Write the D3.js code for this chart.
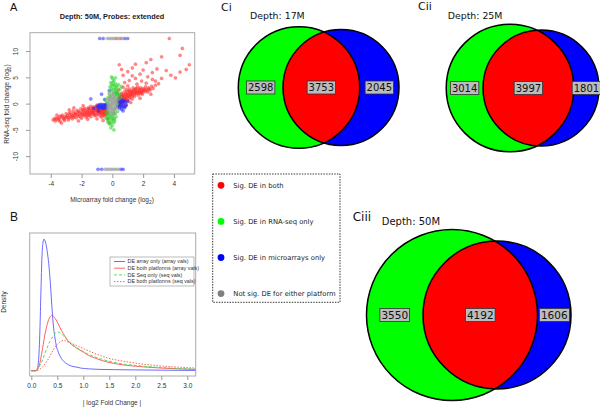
<!DOCTYPE html>
<html><head><meta charset="utf-8">
<script src="https://cdn.jsdelivr.net/npm/d3@7"></script>
<style>body{margin:0;background:#fff}svg{display:block}</style>
</head><body>
<script>
// ---------- DATA ----------
// Panel A scatter (microarray log2 FC, RNA-seq log2 FC)
const scatterRed = [
[-3.85,-3.1],[-3.75,-2.8],[-3.7,-3.3],[-3.55,-2.7],[-3.5,-3.1],[-3.4,-2.4],[-3.4,-3.4],
[-3.25,-2.2],[-3.2,-2.8],[-3.1,-3.2],[-3.1,-2.5],[-3.0,-1.9],[-2.95,-2.7],[-2.9,-2.3],[-2.85,-3.1],
[-2.75,-1.7],[-2.7,-2.5],[-2.65,-2.1],[-2.6,-2.9],[-2.55,-1.4],[-2.45,-2.3],[-2.4,-1.8],[-2.35,-2.7],[-2.3,-1.3],[-2.25,-2.1],
[-2.15,-1.6],[-2.1,-2.5],[-2.05,-1.0],[-2.0,-2.0],[-2.0,-2.8],[-1.95,-1.4],
[-1.85,-2.3],[-1.8,-1.8],[-1.8,-0.9],[-1.75,-1.3],[-1.7,-2.6],[-1.65,-2.0],[-1.6,-1.5],
[-1.55,-0.8],[-1.5,-2.2],[-1.5,-1.2],[-1.45,-1.8],[-1.4,-0.5],[-1.4,-2.5],[-1.35,-1.5],
[-1.3,-1.0],[-1.25,-2.0],[-1.2,-0.6],[-1.2,-1.4],[-1.15,-2.3],[-1.1,-1.7],[-1.1,-0.9],
[-1.0,-0.3],[-1.0,-1.3],[-0.95,-2.0],[-0.9,-1.6],[-0.9,-0.8],[-0.85,-1.1],[-0.8,-2.3],[-0.8,-1.4],
[-0.75,-1.8],[-0.7,-1.0],[-0.7,-2.6],[-0.65,-1.3],[-0.6,-2.0],[-0.55,-1.6],[-0.5,-1.1],[-0.5,-2.4],[-0.45,-1.8],[-0.4,-1.3],
[-3.3,-3.7],[-2.8,-1.2],[-2.2,-3.3],[-1.6,-3.0],[-1.0,-2.9],[-0.6,-3.2],[-3.6,-2.2],[-2.5,-0.8],[-1.9,-0.4],[-0.3,-2.8],[-0.2,-3.6],
[-3.65,-2.95],[-3.45,-2.85],[-3.3,-2.5],[-3.15,-2.95],[-3.0,-2.5],[-2.8,-2.7],[-2.8,-2.0],[-2.6,-2.4],[-2.5,-1.9],[-2.5,-2.6],
[-2.35,-2.0],[-2.2,-2.4],[-2.2,-1.5],[-2.1,-1.9],[-1.95,-2.2],[-1.9,-1.7],[-1.9,-1.1],[-1.75,-2.1],[-1.7,-1.6],[-1.6,-2.3],
[-1.6,-1.0],[-1.55,-1.7],[-1.45,-1.0],[-1.4,-2.0],[-1.3,-1.7],[-1.3,-1.3],[-1.25,-0.8],[-1.2,-1.9],[-1.1,-1.3],[-1.05,-2.2],
[-1.0,-1.0],[-0.95,-1.5],[-0.9,-1.2],[-0.85,-1.9],[-0.8,-0.9],[-0.75,-1.5],[-0.7,-1.7],[-0.65,-2.2],[-0.6,-1.1],[-0.55,-1.9],
[-0.5,-1.4],[-0.45,-2.1],[-0.4,-1.6],[-0.35,-1.0],[-0.35,-2.0],[-0.3,-1.6],
[0.3,0.4],[0.35,-0.4],[0.4,1.0],[0.45,0.1],[0.5,1.6],[0.5,-0.3],
[0.55,0.7],[0.6,1.3],[0.6,2.0],[0.65,0.2],[0.7,1.0],[0.7,1.7],[0.75,0.5],[0.8,2.3],[0.8,1.3],
[0.85,0.8],[0.9,1.8],[0.9,2.7],[0.95,1.2],[1.0,0.5],[1.0,2.2],[1.05,1.6],[1.1,2.8],[1.1,0.9],
[1.15,1.9],[1.2,1.3],[1.25,2.5],[1.3,0.9],[1.3,1.8],[1.35,3.0],[1.4,2.2],[1.45,1.4],[1.5,2.7],
[1.55,1.9],[1.6,2.4],[1.65,3.1],[1.7,1.6],[1.75,2.6],[1.8,2.1],[1.85,3.0],[1.9,2.4],[1.95,1.8],[2.0,2.8],
[2.1,2.3],[2.15,3.2],[2.2,2.7],[2.3,2.2],[2.35,3.0],[2.45,2.6],[2.55,3.3],[2.65,2.9],[2.8,3.5],
[0.35,0.6],[0.4,0.3],[0.45,1.3],[0.55,0.2],[0.6,0.9],[0.65,1.6],[0.7,0.6],[0.75,1.4],[0.8,0.9],[0.85,1.9],
[0.9,1.3],[0.95,0.7],[1.0,1.6],[1.05,2.4],[1.1,1.3],[1.15,2.3],[1.2,1.7],[1.25,2.0],[1.3,2.3],[1.35,1.5],
[1.4,2.6],[1.45,1.9],[1.5,2.3],[1.55,2.9],[1.6,2.0],[1.7,2.3],[1.75,2.0],[1.8,2.7],[1.9,2.0],[2.0,2.4],[2.05,2.7],[2.25,2.5],[2.4,2.8],
[0.4,2.6],[0.7,3.1],[1.0,3.4],[1.6,3.7],[2.2,3.9],[1.2,0.2],[1.8,1.0],[2.5,1.8],[0.9,-0.3],
[3.7,12.4],[4.55,10.5],[4.4,9.2],[5.0,7.4],[4.4,6.0],[3.2,8.9],[2.5,8.4],[2.2,7.8],[0.45,7.4],[1.5,7.5],
[3.8,5.4],[3.2,4.8],[2.9,6.6],[2.6,5.9],[2.0,6.4],[1.8,5.6],[1.3,6.8],[1.0,6.1],[0.7,5.4],[2.3,5.1],
[1.5,4.8],[1.1,4.4],[2.8,4.3],[3.5,6.3],[0.8,4.0],[1.9,4.3],[2.6,4.6],[4.1,4.9],[4.8,6.5],[1.3,5.3],[0.6,6.5],[3.0,3.8],
[0.25,12.4],[0.55,12.4]
];
const scatterBlue = [
[-1.0,-0.5],[-0.9,-0.3],[-0.85,-0.8],[-0.8,-0.4],[-0.75,-0.6],[-0.7,-0.2],[-0.65,-0.9],[-0.6,-0.5],[-0.55,-0.3],
[-0.5,-0.7],[-0.45,-0.4],[-0.4,-0.1],[-0.35,-0.6],[-0.3,-0.3],[-1.2,-0.9],[-1.4,0.9],[-0.7,1.8],[-0.5,0.8],
[0.35,0.6],[0.4,-0.3],[0.45,0.2],[0.5,-0.6],[0.55,0.4],[0.6,-0.1],[0.65,0.7],[0.7,-0.4],[0.75,0.1],[0.8,-0.8],
[0.85,0.3],[0.9,-0.2],[0.6,-1.1],[0.45,-0.9],[1.0,0.4],[0.5,1.0],[0.3,2.0],[-0.2,2.5],[0.7,-1.4],[-0.9,-1.4],
[-0.95,-0.65],[-0.8,-0.15],[-0.7,-0.75],[-0.6,-0.2],[-0.55,-0.85],[-0.45,-0.2],[-0.4,-0.8],[0.4,0.1],[0.5,0.6],
[0.55,-0.3],[0.65,0.2],[0.7,0.5],[0.75,-0.6],[0.8,0.5],[0.85,-0.5],[0.6,-0.7],[0.35,-0.6],
[-0.82,12.4],[-0.6,12.4],[0.8,12.4],[1.0,12.4],[-0.93,-12.5],[-0.7,-12.5],[0.7,-12.5],[0.55,-12.5]
];
const scatterGreen = [
[0.0,4.8],[0.1,4.4],[-0.1,4.0],[0.2,3.8],[0.05,3.5],[-0.15,3.2],[0.25,3.0],[0.1,2.8],[-0.05,2.5],[0.3,2.4],
[0.15,2.2],[-0.2,2.0],[0.05,1.8],[0.35,1.6],[-0.1,1.5],[0.2,1.3],[-0.3,1.1],[0.1,1.0],[0.4,0.9],[-0.15,0.6],
[0.25,0.5],[-0.35,0.2],[0.3,-0.1],[-0.25,-0.4],[0.2,-0.6],[-0.1,-0.9],[0.15,-1.1],[-0.3,-1.3],[0.05,-1.5],
[-0.2,-1.8],[0.1,-2.0],[-0.35,-2.2],[0.0,-2.4],[-0.15,-2.7],[0.15,-2.9],[-0.25,-3.1],[-0.05,-3.3],[0.1,-3.6],
[-0.2,-3.9],[0.0,-4.2],[-0.1,-4.6],[-0.3,-3.0],[0.25,-2.5],[0.5,2.8],[0.6,3.3],[0.45,1.9],[-0.4,-1.7],[0.35,-1.5],
[-0.45,0.6],[0.55,1.1],[0.4,3.6],[-0.05,5.1],[0.2,4.9],[0.1,-5.0],[-0.4,-2.8],[0.3,3.3],[0.0,0.3],[-0.05,-0.2],
[0.05,4.1],[0.15,3.4],[-0.05,2.9],[0.2,2.6],[0.1,2.0],[-0.15,1.3],[0.25,1.7],[0.05,-1.8],[-0.1,-2.2],[-0.2,-2.5],
[0.05,-2.8],[-0.1,-3.8],[0.0,-3.0],[-0.25,-2.0],[0.2,-1.9],[0.15,-3.3],[-0.3,-3.5],[0.3,2.0],[-0.05,3.6]
];
const scatterGrey = [
[0,0],[0.1,0.3],[-0.1,-0.3],[0.2,0.6],[-0.2,-0.6],[0.05,0.9],[-0.05,-0.9],[0.15,-0.2],[-0.15,0.2],[0.25,1.1],
[-0.25,-1.1],[0.0,1.4],[0.0,-1.4],[0.1,-0.7],[-0.1,0.7],[0.3,0.0],[-0.3,0.0],[0.2,-1.0],[-0.2,1.0],[0.1,1.8],
[-0.1,-1.8],[0.05,-2.2],[-0.05,2.2],[0.15,0.0],[-0.15,-1.5],[0.25,-0.5],[-0.25,0.5],
[0.05,0.5],[-0.05,-0.5],[0.15,0.9],[-0.15,-0.9],[0.2,0.2],[-0.2,-0.2],[0.1,-1.2],[-0.1,1.2],[0.25,-0.9],
[-0.25,0.9],[0.0,-1.0],[0.0,1.0],[0.3,0.6],[-0.3,-0.6],[0.12,1.5],[-0.12,-1.6],[0.2,-1.6],[-0.2,1.7],
[-0.35,12.4],[-0.25,12.4],[-0.15,12.4],[-0.05,12.4],[0.05,12.4],[0.15,12.4],[0.35,12.4],[0.45,12.4],[0.65,12.4],
[-0.5,-12.5],[-0.4,-12.5],[-0.3,-12.5],[-0.2,-12.5],[-0.1,-12.5],[0.0,-12.5],[0.1,-12.5],[0.2,-12.5],[0.3,-12.5],[0.4,-12.5]
];
const scatterXTicks = [-4,-2,0,2,4];
const scatterYTicks = [-10,-5,0,5,10];

// Panel B densities (|log2 FC|, density)
const densArrayOnly = [[0,0],[0.08,0],[0.11,0.05],[0.14,0.4],[0.165,1.5],[0.185,3.0],[0.205,4.3],[0.225,4.85],[0.245,4.97],[0.265,4.9],[0.29,4.7],[0.31,4.45],[0.335,4.05],[0.355,3.6],[0.375,3.05],[0.395,2.45],[0.42,1.8],[0.45,1.3],[0.48,0.95],[0.52,0.7],[0.56,0.52],[0.62,0.36],[0.7,0.24],[0.78,0.17],[0.86,0.14],[0.95,0.1],[1.1,0.07],[1.3,0.05],[1.6,0.04],[2.0,0.03],[2.5,0.02],[3.16,0.01]];
const densBothArray = [[0,0],[0.08,0],[0.12,0.05],[0.16,0.25],[0.195,0.6],[0.23,1.0],[0.26,1.35],[0.29,1.62],[0.32,1.85],[0.35,2.0],[0.38,2.08],[0.4,2.1],[0.43,2.05],[0.46,1.97],[0.49,1.87],[0.53,1.72],[0.58,1.52],[0.64,1.32],[0.7,1.14],[0.78,0.98],[0.9,0.82],[1.0,0.7],[1.1,0.58],[1.25,0.46],[1.35,0.39],[1.6,0.27],[2.0,0.17],[2.5,0.1],[3.16,0.05]];
const densSeqOnly = [[0,0],[0.1,0],[0.13,0.07],[0.18,0.25],[0.225,0.45],[0.27,0.7],[0.32,0.95],[0.37,1.15],[0.42,1.3],[0.47,1.42],[0.51,1.46],[0.56,1.42],[0.61,1.33],[0.68,1.18],[0.77,1.02],[0.86,0.89],[0.96,0.77],[1.08,0.64],[1.22,0.52],[1.38,0.42],[1.54,0.34],[1.75,0.26],[2.0,0.2],[2.5,0.12],[3.16,0.06]];
const densBothSeq = [[0,0],[0.12,0],[0.16,0.05],[0.22,0.15],[0.29,0.33],[0.35,0.52],[0.42,0.78],[0.47,0.93],[0.51,1.02],[0.56,1.1],[0.61,1.14],[0.66,1.13],[0.71,1.08],[0.8,1.01],[0.9,0.93],[1.02,0.82],[1.15,0.71],[1.3,0.59],[1.47,0.48],[1.65,0.4],[1.86,0.33],[2.1,0.26],[2.37,0.2],[2.7,0.15],[3.16,0.1]];
const densityLabels = ["DE array only (array vals)","DE both platforms (array vals)","DE Seq only (seq vals)","DE both platforms (seq vals)"];
const densityXTicks = [0,0.5,1,1.5,2,2.5,3];

// Panel C Venn counts
const vennNames = ["Ci","Cii","Ciii"];
const vennDepths = ["Depth: 17M","Depth: 25M","Depth: 50M"];
const rnaSeqOnly = [2598,3014,3550];
const bothPlatforms = [3753,3997,4192];
const arrayOnly = [2045,1801,1606];
const legendLabels = ["Sig. DE in both","Sig. DE in RNA-seq only","Sig. DE in microarrays only","Not sig. DE for either platform"];

// ---------- LAYOUT / STYLE ----------
const W=600,H=407;
const svg=d3.select("body").append("svg").attr("width",W).attr("height",H);
svg.append("rect").attr("width",W).attr("height",H).attr("fill","#fff");
const RF="'Liberation Sans', Arial, sans-serif";
const DF="'DejaVu Sans', sans-serif";

// ===== Panel A =====
const A={l:30,r:194.7,t:32.7,b:174};
const xA=d3.scaleLinear().domain([-5.35,5.35]).range([A.l,A.r]);
const yA=d3.scaleLinear().domain([-13.4,13.5]).range([A.b,A.t]);
const gA=svg.append("g");
gA.append("rect").attr("x",A.l).attr("y",A.t).attr("width",A.r-A.l).attr("height",A.b-A.t)
  .attr("fill","none").attr("stroke","#aaa").attr("stroke-width",1);
const ptLayers=[[scatterRed,"#ff2a2a"],[scatterBlue,"#2a2aff"],[scatterGreen,"#2ad42a"],[scatterGrey,"#a0a0a0"]];
ptLayers.forEach(([arr,c])=>{
  gA.append("g").selectAll("circle").data(arr).join("circle")
    .attr("cx",d=>xA(d[0])).attr("cy",d=>yA(d[1])).attr("r",1.6)
    .attr("fill",c).attr("fill-opacity",0.55).attr("stroke",c).attr("stroke-opacity",0.55).attr("stroke-width",0.4);
});
const axA=gA.append("g").attr("transform",`translate(0,${A.b})`)
  .call(d3.axisBottom(xA).tickValues(scatterXTicks).tickSize(4).tickPadding(3).tickFormat(d=>String(d)));
const ayA=gA.append("g").attr("transform",`translate(${A.l},0)`)
  .call(d3.axisLeft(yA).tickValues(scatterYTicks).tickSize(4).tickFormat(d=>String(d)));
[axA,ayA].forEach(a=>{a.select(".domain").remove();a.selectAll("line").attr("stroke","#999");
  a.selectAll("text").attr("font-family",RF).attr("font-size",6.5).attr("fill","#333");});
ayA.selectAll("text").attr("transform","rotate(-90)").attr("x",0).attr("y",-12).attr("dy",0).attr("text-anchor","middle");
gA.append("text").attr("x",112).attr("y",19).attr("text-anchor","middle").attr("font-family",RF)
  .attr("font-weight","bold").attr("font-size",7.3).attr("fill","#222").text("Depth: 50M, Probes: extended");
const xl=gA.append("text").attr("x",112).attr("y",202).attr("text-anchor","middle").attr("font-family",RF).attr("font-size",6.5).attr("fill","#333");
xl.append("tspan").text("Microarray fold change (log");xl.append("tspan").attr("font-size",4.8).attr("dy",1.5).text("2");xl.append("tspan").attr("dy",-1.5).text(")");
const yl=gA.append("text").attr("transform","translate(9,104) rotate(-90)").attr("text-anchor","middle").attr("font-family",RF).attr("font-size",6.5).attr("fill","#333");
yl.append("tspan").text("RNA-seq fold change (log");yl.append("tspan").attr("font-size",4.8).attr("dy",1.5).text("2");yl.append("tspan").attr("dy",-1.5).text(")");
svg.append("text").attr("x",10).attr("y",10.5).attr("font-family",RF).attr("font-size",11).attr("fill","#111").text("A");

// ===== Panel B =====
const B={l:29.7,r:195.7,t:233,b:376};
const xB=d3.scaleLinear().domain([-0.031,3.162]).range([B.l,B.r]);
const yB=d3.scaleLinear().domain([-0.2,5.2]).range([B.b,B.t]);
const gB=svg.append("g");
gB.append("rect").attr("x",B.l).attr("y",B.t).attr("width",B.r-B.l).attr("height",B.b-B.t)
  .attr("fill","none").attr("stroke","#aaa").attr("stroke-width",1);
svg.append("clipPath").attr("id","clipB").append("rect").attr("x",B.l).attr("y",B.t).attr("width",B.r-B.l).attr("height",B.b-B.t);
const lineB=d3.line().x(d=>xB(d[0])).y(d=>yB(d[1])).curve(d3.curveMonotoneX);
const densSeries=[[densArrayOnly,"#5a5aff",null],[densBothArray,"#ff5050",null],[densSeqOnly,"#44dd44","3,2"],[densBothSeq,"#ff5050","1.5,1.5"]];
const gLines=gB.append("g").attr("clip-path","url(#clipB)");
densSeries.forEach(([arr,c,da])=>{
  gLines.append("path").datum(arr).attr("d",lineB).attr("fill","none").attr("stroke",c).attr("stroke-width",0.9)
    .attr("stroke-dasharray",da);
});
const axB=gB.append("g").attr("transform",`translate(0,${B.b})`)
  .call(d3.axisBottom(xB).tickValues(densityXTicks).tickSize(4).tickPadding(3).tickFormat(d3.format(".1f")));
axB.select(".domain").remove();axB.selectAll("line").attr("stroke","#999");
axB.selectAll("text").attr("font-family",RF).attr("font-size",6.5).attr("fill","#333");
gB.append("text").attr("x",112).attr("y",405).attr("text-anchor","middle").attr("font-family",RF).attr("font-size",6.5).attr("fill","#333").text("| log2 Fold Change |");
gB.append("text").attr("transform","translate(6,302) rotate(-90)").attr("text-anchor","middle").attr("font-family",RF).attr("font-size",6.5).attr("fill","#333").text("Density");
// legend B
const LB={x:110,y:257,w:84,h:29};
gB.append("rect").attr("x",LB.x).attr("y",LB.y).attr("width",LB.w).attr("height",LB.h).attr("fill","#fff").attr("stroke","#aaa").attr("stroke-width",0.8);
densityLabels.forEach((lab,i)=>{
  const yy=LB.y+4.5+i*6.7;
  gB.append("line").attr("x1",LB.x+4).attr("x2",LB.x+15).attr("y1",yy).attr("y2",yy)
    .attr("stroke",densSeries[i][1]).attr("stroke-width",0.9).attr("stroke-dasharray",densSeries[i][2]);
  gB.append("text").attr("x",LB.x+17.5).attr("y",yy).attr("dy","0.35em").attr("font-family",RF).attr("font-size",5.4).attr("fill","#333").text(lab);
});
svg.append("text").attr("x",10).attr("y",221).attr("font-family",RF).attr("font-size",12).attr("fill","#111").text("B");

// ===== Panel C: Venn diagrams =====
// circle areas are proportional to the set totals; centres follow the original layout
const vennLayout=[
  {cg:299,cb:341,cy:87.5,rb:58,font:10,titleX:221,titleY:10.5,titleSize:11,depX:250,depY:19,depSize:9.4},
  {cg:510,cb:541,cy:88,rb:58,font:10,titleX:418,titleY:10,titleSize:11,depX:447.7,depY:19,depSize:9.4},
  {cg:452,cb:497,cy:315,rb:74,font:10.5,titleX:352.7,titleY:221,titleSize:12,depX:381.7,depY:224.5,depSize:10}
];
const defs=svg.append("defs");
vennNames.forEach((name,i)=>{
  const L=vennLayout[i];
  const blueTot=bothPlatforms[i]+arrayOnly[i], greenTot=bothPlatforms[i]+rnaSeqOnly[i];
  const rs=d3.scaleSqrt().domain([0,blueTot]).range([0,L.rb]);
  const rb=rs(blueTot), rg=rs(greenTot);
  const cg=L.cg, cb=L.cb;
  const g=svg.append("g");
  g.append("circle").attr("cx",cg).attr("cy",L.cy).attr("r",rg).attr("fill","#00ff00");
  g.append("circle").attr("cx",cb).attr("cy",L.cy).attr("r",rb).attr("fill","#0000ff");
  defs.append("clipPath").attr("id","cg"+i).append("circle").attr("cx",cg).attr("cy",L.cy).attr("r",rg);
  g.append("circle").attr("cx",cb).attr("cy",L.cy).attr("r",rb).attr("fill","#ff0000").attr("clip-path",`url(#cg${i})`);
  g.append("circle").attr("cx",cg).attr("cy",L.cy).attr("r",rg).attr("fill","none").attr("stroke","#000").attr("stroke-width",1.5);
  g.append("circle").attr("cx",cb).attr("cy",L.cy).attr("r",rb).attr("fill","none").attr("stroke","#000").attr("stroke-width",1.5);
  const gl=cg-rg, bl=cb-rb, gr=cg+rg, br=cb+rb;
  const labs=[[ (gl+bl)/2, rnaSeqOnly[i]],[ (bl+gr)/2, bothPlatforms[i]],[ (gr+br)/2, arrayOnly[i]]];
  labs.forEach(([x,v])=>{
    const t=g.append("text").attr("x",x).attr("y",L.cy).attr("dy","0.36em").attr("text-anchor","middle")
      .attr("font-family",DF).attr("font-size",L.font).attr("fill","#111").text(v);
    const bb=t.node().getBBox();
    g.insert("rect",()=>t.node()).attr("x",bb.x-1.5).attr("y",L.cy-6.5).attr("width",bb.width+3).attr("height",13)
      .attr("fill","#bcbcbc").attr("stroke","#333").attr("stroke-width",0.8);
  });
  svg.append("text").attr("x",L.titleX).attr("y",L.titleY).attr("font-family",DF).attr("font-size",L.titleSize).attr("fill","#111").text(name);
  svg.append("text").attr("x",L.depX).attr("y",L.depY).attr("font-family",DF).attr("font-size",L.depSize).attr("fill","#111").text(vennDepths[i]);
});

// Legend C (dotted box)
const LC={x:212.7,y:174,w:127.3,h:128.3};
svg.append("rect").attr("x",LC.x).attr("y",LC.y).attr("width",LC.w).attr("height",LC.h)
  .attr("fill","none").attr("stroke","#222").attr("stroke-width",0.9).attr("stroke-dasharray","1.5,1.2");
const legCols=["#ff0000","#00ff00","#0000ff","#808080"];
legendLabels.forEach((lab,i)=>{
  const yy=185.3+i*36.1;
  svg.append("circle").attr("cx",221).attr("cy",yy).attr("r",3.4).attr("fill",legCols[i]);
  svg.append("text").attr("x",233.3).attr("y",yy).attr("dy","0.35em").attr("font-family",DF).attr("font-size",6.8).attr("fill","#222").text(lab);
});
</script>
</body></html>
